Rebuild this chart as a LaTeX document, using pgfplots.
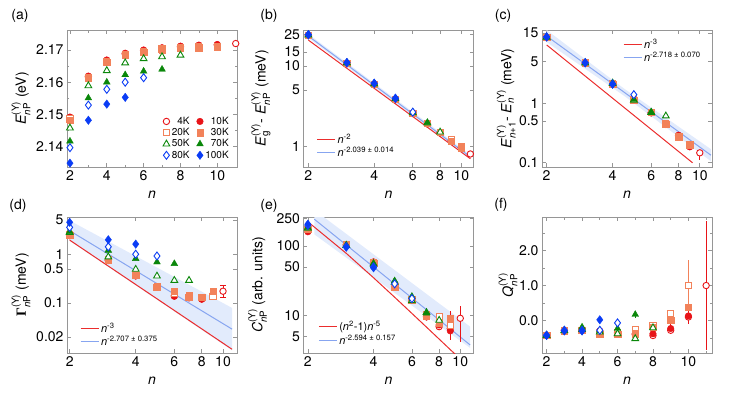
\documentclass[border=0pt]{standalone}
\usepackage{fontspec}
\setmainfont{TeX Gyre Heros}
\newfontfamily\serifb{Liberation Serif}
\usepackage{amsmath}
\usepackage{pgfplots}
\pgfplotsset{compat=1.18}

\definecolor{cRed}{RGB}{232,20,24}
\definecolor{orng}{RGB}{242,130,90}
\definecolor{cGr}{RGB}{10,135,10}
\definecolor{cBl}{RGB}{10,60,245}
\definecolor{lRed}{RGB}{235,45,45}
\definecolor{lBl}{RGB}{135,165,240}
\definecolor{bandc}{RGB}{226,235,252}
\definecolor{frm}{RGB}{150,150,150}

\newcommand{\nP}{_{\textit{n}\text{P}}^{\text{(Y)}}}

\pgfplotsset{
  base/.style={
    scale only axis, width=170pt, height=137pt,
    axis line style={draw=frm, line width=0.7pt},
    tick style={draw=frm, line width=0.7pt},
    major tick length=4pt, minor tick length=2.5pt,
    tick align=inside,
    tick label style={font=\fontsize{14}{16}\selectfont, text=black},
    label style={font=\fontsize{14}{16}\selectfont},
    /pgf/number format/assume math mode=true,
    xlabel={\textit{n}},
    xlabel style={at={(axis description cs:0.5,0)}, anchor=center, yshift=-28pt},
    legend cell align=left,
    legend style={draw=none, fill=none, font=\fontsize{11}{12}\selectfont, inner sep=1pt, row sep=-1.5pt},
  },
  s4/.style={only marks, color=cRed, mark=*, mark size=3.2pt, mark options={fill=white, draw=cRed, line width=0.9pt}},
  s10/.style={only marks, color=cRed, mark=*, mark size=3.3pt, mark options={fill=cRed, draw=cRed}},
  s20/.style={only marks, color=orng, mark=square*, mark size=3.1pt, mark options={fill=white, draw=orng, line width=1pt}},
  s30/.style={only marks, color=orng, mark=square*, mark size=3.2pt, mark options={fill=orng, draw=orng}},
  s50/.style={only marks, color=cGr, mark=triangle*, mark size=3.9pt, mark options={fill=white, draw=cGr, line width=0.9pt}},
  s70/.style={only marks, color=cGr, mark=triangle*, mark size=3.9pt, mark options={fill=cGr, draw=cGr}},
  s80/.style={only marks, color=cBl, mark=diamond*, mark size=4pt, mark options={fill=white, draw=cBl, line width=0.9pt}},
  s100/.style={only marks, color=cBl, mark=diamond*, mark size=4.2pt, mark options={fill=cBl, draw=cBl}},
  eb/.style={error bars/.cd, y dir=both, y explicit, error mark=none, error bar style={line width=0.6pt}},
  lr/.style={lRed, line width=1pt, mark=none},
  lb/.style={lBl, line width=1pt, mark=none},
  bnd/.style={fill=bandc, draw=none, forget plot},
}

\begin{document}
\begin{tikzpicture}
\path[use as bounding box] (0pt,0pt) rectangle (747pt,-394pt);

\node[font=\fontsize{14}{16}\selectfont] at (20pt,-16pt) {(a)};
\node[font=\fontsize{14}{16}\selectfont] at (269pt,-16pt) {(b)};
\node[font=\fontsize{14}{16}\selectfont] at (503pt,-16pt) {(c)};
\node[font=\fontsize{14}{16}\selectfont] at (18pt,-206pt) {(d)};
\node[font=\fontsize{14}{16}\selectfont] at (269pt,-206pt) {(e)};
\node[font=\fontsize{14}{16}\selectfont] at (501pt,-205pt) {(f)};

% ---------------- (a)
\begin{axis}[base, at={(67pt,-30pt)}, anchor=north west,
  xmin=1.84, xmax=11.07, ymin=2.1337, ymax=2.1762,
  xtick={2,4,6,8,10}, xticklabels={2,4,6,8,10}, minor x tick num=1,
  ytick={2.14,2.15,2.16,2.17}, yticklabels={2.14,2.15,2.16,2.17}, minor y tick num=1,
  ylabel={\textit{E}$\nP$ (eV)},
  ylabel style={at={(axis description cs:-0.27,0.5)}, anchor=center},
  legend columns=2, legend cell align=right,
  legend style={at={(axis description cs:0.97,0.03)}, anchor=south east,
    font=\fontsize{10}{11}\selectfont, row sep=-1.5pt,
    /tikz/every even column/.append style={column sep=5pt}},
  legend image code/.code={\draw[mark repeat=2,mark phase=2,#1] plot coordinates {(0pt,0pt) (5pt,0pt) (10pt,0pt)};},
]
\addplot[s4] coordinates {(2,2.1490)(3,2.1617)(4,2.1667)(5,2.1688)(6,2.1698)(7,2.1705)(8,2.1710)(9,2.1714)(10,2.1716)(11,2.1720)};
\addlegendentry{4K}
\addplot[s10] coordinates {(2,2.1492)(3,2.1619)(4,2.1669)(5,2.1690)(6,2.1700)(7,2.1707)(8,2.1712)(9,2.1715)(10,2.1717)};
\addlegendentry{10K}
\addplot[s20] coordinates {(2,2.1486)(3,2.1615)(4,2.1665)(5,2.1686)(6,2.1696)(7,2.1703)(8,2.1708)(9,2.1709)(10,2.1711)};
\addlegendentry{20K}
\addplot[s30] coordinates {(2,2.1483)(3,2.1612)(4,2.1662)(5,2.1683)(6,2.1694)(7,2.1701)(8,2.1706)(9,2.1707)(10,2.1709)};
\addlegendentry{30K}
\addplot[s50] coordinates {(2,2.1458)(3,2.1589)(4,2.1636)(5,2.1660)(6,2.1673)(7,2.1679)(8,2.1684)};
\addlegendentry{50K}
\addplot[s70] coordinates {(2,2.1417)(3,2.1551)(4,2.1600)(5,2.1623)(6,2.1634)(7,2.1640)};
\addlegendentry{70K}
\addplot[s80] coordinates {(2,2.1397)(3,2.1529)(4,2.1578)(5,2.1600)(6,2.1614)};
\addlegendentry{80K}
\addplot[s100] coordinates {(2,2.1349)(3,2.1482)(4,2.1532)(5,2.1553)};
\addlegendentry{100K}
\end{axis}

% ---------------- (b)
\begin{axis}[base, xmode=log, ymode=log, at={(303.5pt,-30pt)}, anchor=north west,
  xmin=1.90, xmax=11.37, ymin=0.55, ymax=28.2,
  xtick={2,4,6,8,10}, xticklabels={2,4,6,8,10}, xminorticks=false, yminorticks=false,
  ytick={1,5,10,15,25}, yticklabels={1,5,10,15,25},
  ylabel={\textit{E}$_\text{g}^{\text{(Y)}}$- \textit{E}$\nP$ (meV)},
  ylabel style={at={(axis description cs:-0.25,0.5)}, anchor=center},
  legend style={at={(axis description cs:0.07,0.04)}, anchor=south west},
  legend image code/.code={\draw[#1] (0pt,0pt) -- (18pt,0pt);},
]
\addplot[bnd] coordinates {(2,25.1)(11,0.78)(11,0.69)(2,22.4)} -- cycle;
\addplot[lr] coordinates {(2,21.1)(11,0.697)};
\addlegendentry{\textit{n}\textsuperscript{-2}}
\addplot[lb] coordinates {(2,23.7)(11,0.735)};
\addlegendentry{\textit{n}\textsuperscript{-2.039 ± 0.014}}
\addplot[s4] coordinates {(2,24.0)(3,10.7)(4,5.9)(5,3.8)(6,2.56)(7,1.90)(8,1.47)(9,1.17)(10,0.97)(11,0.80)};
\addplot[s10] coordinates {(2,24.1)(3,10.75)(4,5.92)(5,3.82)(6,2.57)(7,1.91)(8,1.48)(9,1.18)(10,0.97)};
\addplot[s20] coordinates {(2,24.2)(3,10.8)(4,5.95)(5,3.85)(6,2.58)(7,1.92)(8,1.48)(9,1.20)(10,1.0)};
\addplot[s30] coordinates {(2,24.3)(3,10.85)(4,5.98)(5,3.87)(6,2.60)(7,1.93)(8,1.50)(9,1.16)(10,0.96)};
\addplot[s50] coordinates {(2,24.4)(3,10.9)(4,6.0)(5,3.9)(6,2.62)(7,1.95)(8,1.50)};
\addplot[s70] coordinates {(2,24.5)(3,11.0)(4,6.05)(5,3.92)(6,2.64)(7,1.96)};
\addplot[s80] coordinates {(2,24.6)(3,11.0)(4,6.1)(5,3.95)(6,2.66)};
\addplot[s100] coordinates {(2,24.8)(3,11.1)(4,6.1)(5,3.97)};
\end{axis}

% ---------------- (c)
\begin{axis}[base, xmode=log, ymode=log, at={(542pt,-30pt)}, anchor=north west,
  xmin=1.905, xmax=11.37, ymin=0.085, ymax=16.9,
  xtick={2,4,6,8,10}, xticklabels={2,4,6,8,10}, xminorticks=false, yminorticks=false,
  ytick={0.1,0.5,1,5,15}, yticklabels={0.1,0.5,1,5,15},
  ylabel={\textit{E}$_{\textit{n}\text{+1}}^{\text{(Y)}}$- \textit{E}$_{\textit{n}}^{\text{(Y)}}$ (meV)},
  ylabel style={at={(axis description cs:-0.21,0.5)}, anchor=center},
  legend style={at={(axis description cs:0.47,0.96)}, anchor=north west},
  legend image code/.code={\draw[#1] (0pt,0pt) -- (18pt,0pt);},
]
\addplot[bnd] coordinates {(2,16.9)(4.5,1.77)(11.25,0.169)(11.25,0.106)(4.5,1.34)(2,10.6)} -- cycle;
\addplot[lr] coordinates {(2,9.5)(9.27,0.1)};
\addlegendentry{\textit{n}\textsuperscript{-3}}
\addplot[lb] coordinates {(2,13.4)(11.25,0.134)};
\addlegendentry{\textit{n}\textsuperscript{-2.718 ± 0.070}}
\addplot[s4, eb] coordinates {(2,12.6)(3,4.7)(4,2.1)(5,1.15)(6,0.69)(7,0.44)(8,0.285)(9,0.20)(10,0.147) -= (0,0.036)};
\addplot[s10] coordinates {(2,12.6)(3,4.7)(4,2.1)(5,1.15)(6,0.69)(7,0.44)(8,0.29)(9,0.185)};
\addplot[s20] coordinates {(2,12.7)(3,4.75)(4,2.12)(5,1.14)(6,0.69)(7,0.45)(8,0.28)(9,0.205)};
\addplot[s30] coordinates {(2,12.7)(3,4.7)(4,2.1)(5,1.13)(6,0.70)(7,0.44)(8,0.275)(9,0.20)};
\addplot[s50] coordinates {(2,12.8)(3,4.75)(4,2.15)(5,1.12)(6,0.70)(7,0.61)};
\addplot[s70] coordinates {(2,12.8)(3,4.8)(4,2.2)(5,1.15)(6,0.71)};
\addplot[s80] coordinates {(2,12.9)(3,4.8)(4,2.1)(5,1.39)};
\addplot[s100] coordinates {(2,13.0)(3,4.75)(4,2.08)};
\end{axis}

% ---------------- (d)
\begin{axis}[base, xmode=log, ymode=log, at={(67pt,-217pt)}, anchor=north west, height=136pt,
  xmin=1.945, xmax=11.58, ymin=0.0094, ymax=5.8,
  xtick={2,4,6,8,10}, xticklabels={2,4,6,8,10}, xminorticks=false, yminorticks=false,
  ytick={0.02,0.1,0.5,1,5}, yticklabels={0.02,0.1,0.5,1,5},
  ylabel={{\serifb\bfseries Γ}$\nP$ (meV)},
  ylabel style={at={(axis description cs:-0.27,0.5)}, anchor=center},
  legend style={at={(axis description cs:0.07,0.02)}, anchor=south west},
  legend image code/.code={\draw[#1] (0pt,0pt) -- (18pt,0pt);},
]
\addplot[bnd] coordinates {(2,4.9)(11,0.079)(11,0.0106)(2,1.89)} -- cycle;
\addplot[lr] coordinates {(2,1.95)(11,0.0112)};
\addlegendentry{\textit{n}\textsuperscript{-3}}
\addplot[lb] coordinates {(2,3.04)(11,0.029)};
\addlegendentry{\textit{n}\textsuperscript{-2.707 ± 0.375}}
\addplot[s4] coordinates {(2,2.42)(3,0.75)(4,0.36)(5,0.21)(6,0.14)(7,0.13)(8,0.12)(9,0.15)};
\addplot[s4, error bars/.cd, y dir=both, y explicit, error bar style={line width=0.6pt}] coordinates {(10,0.174) += (0,0.055) -= (0,0.04)};
\addplot[s10] coordinates {(2,2.4)(3,0.74)(4,0.36)(5,0.21)(6,0.137)(7,0.127)(8,0.12)(9,0.15)};
\addplot[s20] coordinates {(2,2.5)(3,0.78)(4,0.38)(5,0.21)(6,0.16)(7,0.127)(8,0.13)(9,0.138)};
\addplot[s30] coordinates {(2,2.47)(3,0.76)(4,0.37)(5,0.22)(6,0.174)(7,0.141)(8,0.133)(9,0.174)};
\addplot[s50] coordinates {(2,2.8)(3,0.88)(4,0.49)(5,0.356)(6,0.29)(7,0.29)};
\addplot[s70] coordinates {(2,2.9)(3,1.2)(4,0.81)(5,0.69)(6,0.64)};
\addplot[s80] coordinates {(2,3.56)(3,1.42)(4,1.0)(5,0.92)};
\addplot[s100] coordinates {(2,4.52)(3,1.98)(4,1.61)};
\end{axis}

% ---------------- (e)
\begin{axis}[base, xmode=log, ymode=log, at={(303.5pt,-217pt)}, anchor=north west, height=136pt,
  xmin=1.91, xmax=11.5, ymin=2.88, ymax=261,
  xtick={2,4,6,8,10}, xticklabels={2,4,6,8,10}, xminorticks=false, yminorticks=false,
  ytick={5,10,50,100,250}, yticklabels={5,10,50,100,250},
  ylabel={\textit{C}$\nP$ (arb. units)},
  ylabel style={at={(axis description cs:-0.27,0.5)}, anchor=center},
  legend style={at={(axis description cs:0.08,0.03)}, anchor=south west},
  legend image code/.code={\draw[#1] (0pt,0pt) -- (18pt,0pt);},
]
\addplot[bnd] coordinates {(2.14,330)(11.1,6.9)(11.1,3.4)(2.14,147)} -- cycle;
\addplot[lr] coordinates {(2,223)(3,78.3)(4,34.9)(5,18.3)(6,10.7)(7,6.79)(8,4.57)(9,3.22)(10,2.36)};
\addlegendentry{(\textit{n}\textsuperscript{2}-1)\textit{n}\textsuperscript{-5}}
\addplot[lb] coordinates {(2.14,243)(11.1,3.76)};
\addlegendentry{\textit{n}\textsuperscript{-2.594 ± 0.157}}
\addplot[s4] coordinates {(2,165)(3,104)(4,58)(5,26)(6,16.8)(7,9.6)(8,6.9)(9,6.5)};
\addplot[s4, eb] coordinates {(10,9.1) += (0,4.4) -= (0,4.9)};
\addplot[s10, eb] coordinates {(2,160)(3,103)(4,59)(5,26.5)(6,17)(7,9.5)(8,7.3)(9,6.0) += (0,5.4) -= (0,1.6)};
\addplot[s20] coordinates {(2,172)(3,105)(4,58)(5,25.5)(6,16.5)(7,10.2)(8,9.7)(9,7.1)};
\addplot[s30] coordinates {(2,175)(3,106)(4,57)(5,26)(6,16.8)(7,9.8)(8,7.9)(9,9.1)};
\addplot[s50] coordinates {(2,180)(3,102)(4,55)(5,30)(6,16.3)(7,11.0)(8,8.5)};
\addplot[s70] coordinates {(2,185)(3,101)(4,56)(5,31.5)(6,18.8)(7,10.8)};
\addplot[s80] coordinates {(2,198)(3,98)(4,50)(5,28.5)(6,17.5)};
\addplot[s100] coordinates {(2,206)(3,96)(4,48.5)};
\end{axis}

% ---------------- (f)
\begin{axis}[base, at={(542pt,-217pt)}, anchor=north west, height=136pt,
  xmin=1.74, xmax=11.33, ymin=-0.93, ymax=2.96,
  xtick={2,4,6,8,10}, xticklabels={2,4,6,8,10}, minor xtick={3,5,7,9,11},
  ytick={0,1,2}, yticklabels={0.0,1.0,2.0}, minor ytick={-0.5,0.5,1.5,2.5},
  ylabel={\textit{Q}$\nP$},
  ylabel style={at={(axis description cs:-0.2,0.5)}, anchor=center},
]
\addplot[s4, eb] coordinates {(2,-0.42)(3,-0.28)(4,-0.28)(5,-0.30)(6,-0.35)(7,-0.40)(8,-0.43)(9,-0.28)(10,0.10)(11,1.0) += (0,1.86) -= (0,1.85)};
\addplot[s10, eb] coordinates {(2,-0.42)(3,-0.28)(4,-0.28)(5,-0.33)(6,-0.38)(7,-0.38)(8,-0.38)(9,-0.23) +- (0,0.12) (10,0.13) +- (0,0.22)};
\addplot[s20, eb] coordinates {(2,-0.42)(3,-0.28)(4,-0.29)(5,-0.34)(6,-0.34)(7,-0.26)(8,-0.14)(9,0.21)(10,1.0) += (0,0.73) -= (0,0.63)};
\addplot[s30] coordinates {(2,-0.42)(3,-0.29)(4,-0.28)(5,-0.39)(6,-0.40)(7,-0.38)(8,-0.20)(9,0.0)(10,0.38)};
\addplot[s50] coordinates {(2,-0.43)(3,-0.29)(4,-0.26)(5,-0.33)(6,-0.38)(7,-0.52)(8,-0.21)};
\addplot[s70, eb] coordinates {(2,-0.42)(3,-0.28)(4,-0.19)(5,-0.28)(6,-0.23)(7,0.17) +- (0,0.1)};
\addplot[s80] coordinates {(2,-0.42)(3,-0.28)(4,-0.28)(5,-0.28)(6,-0.07)};
\addplot[s100] coordinates {(2,-0.43)(3,-0.30)(4,-0.30)(5,0.02)};
\end{axis}
\end{tikzpicture}
\end{document}
